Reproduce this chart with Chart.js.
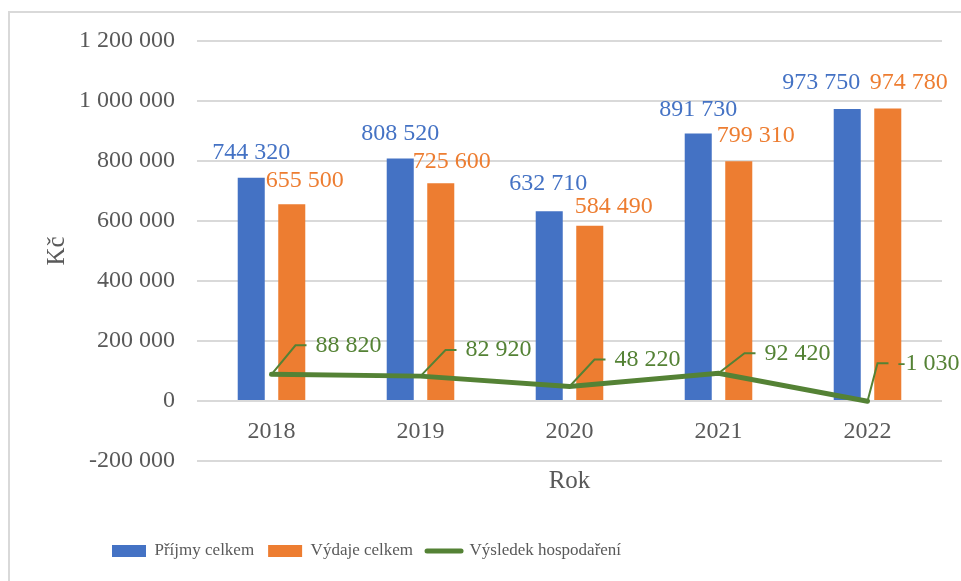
<!DOCTYPE html>
<html>
<head>
<meta charset="utf-8">
<script src="https://cdn.jsdelivr.net/npm/chart.js@4.4.1/dist/chart.umd.min.js"></script>
<style>
  body { margin: 0; background: #fff; }
  .frame { position: absolute; left: 8px; top: 11px; width: 1000px; height: 600px;
           border-left: 2px solid #d9d9d9; border-top: 2px solid #d9d9d9; }
  canvas { position: absolute; left: 0; top: 0; }
</style>
</head>
<body>
<div class="frame"></div>
<canvas id="chart" width="961" height="581"></canvas>
<script>
const years = ['2018', '2019', '2020', '2021', '2022'];
const prijmy = [744320, 808520, 632710, 891730, 973750];
const vydaje = [655500, 725600, 584490, 799310, 974780];
const vysledek = [88820, 82920, 48220, 92420, -1030];
const yMin = -200000;
const yMax = 1200000;
const yStep = 200000;

// label offsets (px) relative to the bar top / line point
const blueShift = { dx: [0, 0, -1, 0, -26], dy: [-25, -25, -27, -24, -26] };
const orangeShift = { dx: [13, 11, 24, 17, 21], dy: [-24, -22, -19, -26, -26] };
const lineShift = { dx: [24, 25, 25, 26, 10], dy: [-29, -26, -27, -20, -38] };

const serif = "'Liberation Serif', 'Times New Roman', serif";
const grey = '#595959';

const fmt = (v) => {
  const s = Math.abs(v).toString().replace(/\B(?=(\d{3})+(?!\d))/g, ' ');
  return (v < 0 ? '-' : '') + s;
};

const valueLabels = {
  id: 'valueLabels',
  afterDatasetsDraw(chart) {
    const ctx = chart.ctx;
    ctx.save();
    ctx.font = '24px ' + serif;
    ctx.textBaseline = 'middle';
    chart.data.datasets.forEach((ds, di) => {
      const meta = chart.getDatasetMeta(di);
      meta.data.forEach((el, i) => {
        const text = fmt(ds.data[i]);
        if (di < 2) {
          const sh = di === 0 ? blueShift : orangeShift;
          ctx.fillStyle = ds.backgroundColor;
          ctx.textAlign = 'center';
          ctx.fillText(text, el.x + sh.dx[i], el.y + sh.dy[i]);
        } else {
          const ex = el.x + lineShift.dx[i];
          const ey = el.y + lineShift.dy[i];
          ctx.strokeStyle = ds.borderColor;
          ctx.lineWidth = 2;
          ctx.beginPath();
          ctx.moveTo(el.x, el.y);
          ctx.lineTo(ex, ey);
          ctx.lineTo(ex + 11, ey);
          ctx.stroke();
          ctx.fillStyle = ds.borderColor;
          ctx.textAlign = 'left';
          ctx.fillText(text, ex + 20, ey);
        }
      });
    });
    ctx.restore();
  }
};

const legendPlace = {
  id: 'legendPlace',
  beforeLayout(chart) {
    const lg = chart.legend;
    if (lg && !lg._patched) {
      const fit = lg.fit;
      lg.fit = function () { fit.call(this); this.height = 80; };
      lg._patched = true;
    }
  },
  afterLayout(chart) {
    const lg = chart.legend;
    const pad = lg.options.labels.padding;
    lg.left = 112 - pad;
    lg.top = 551 - pad - 8.5;
    lg.bottom = 581;
  }
};

new Chart(document.getElementById('chart'), {
  type: 'bar',
  data: {
    labels: years,
    datasets: [
      {
        label: 'Příjmy celkem',
        data: prijmy,
        backgroundColor: '#4472C4',
        categoryPercentage: 0.544,
        barPercentage: 0.667,
        order: 1
      },
      {
        label: 'Výdaje celkem',
        data: vydaje,
        backgroundColor: '#ED7D31',
        categoryPercentage: 0.544,
        barPercentage: 0.667,
        order: 1
      },
      {
        type: 'line',
        label: 'Výsledek hospodaření',
        data: vysledek,
        borderColor: '#548235',
        backgroundColor: '#548235',
        borderWidth: 5,
        borderCapStyle: 'round',
        pointRadius: 0,
        tension: 0,
        fill: false,
        order: 0
      }
    ]
  },
  options: {
    responsive: false,
    animation: false,
    devicePixelRatio: 1,
    layout: { padding: { left: 0, top: 41, right: 19, bottom: 0 } },
    plugins: {
      tooltip: { enabled: false },
      legend: {
        position: 'bottom',
        align: 'start',
        labels: {
          usePointStyle: true,
          pointStyleWidth: 34,
          boxHeight: 12,
          padding: 14,
          color: grey,
          font: { family: serif, size: 17 },
          sort: (a, b) => a.datasetIndex - b.datasetIndex,
          generateLabels(chart) {
            const items = Chart.defaults.plugins.legend.labels.generateLabels(chart);
            items.forEach((it) => {
              if (it.datasetIndex < 2) {
                it.pointStyle = 'rect';
                it.lineWidth = 0;
              } else {
                it.pointStyle = 'line';
                it.lineWidth = 5;
                it.strokeStyle = '#548235';
                it.lineCap = 'round';
              }
            });
            return items;
          }
        }
      }
    },
    scales: {
      x: {
        position: { y: 0 },
        grid: { display: false },
        border: { display: false },
        ticks: { color: grey, font: { family: serif, size: 24 }, padding: 8 }
      },
      x2: {
        type: 'category',
        position: 'bottom',
        grid: { display: false },
        border: { display: false },
        ticks: { display: false },
        title: { display: true, text: 'Rok', color: grey, font: { family: serif, size: 25 }, padding: { top: 0, bottom: 5 } },
        afterFit(scale) { scale.height = 40; }
      },
      y: {
        min: yMin,
        max: yMax,
        grid: { color: '#d9d9d9', lineWidth: 2, drawTicks: false },
        border: { display: false },
        ticks: {
          stepSize: yStep,
          padding: 22,
          color: grey,
          font: { family: serif, size: 24 },
          callback: (v) => fmt(v)
        },
        title: { display: true, text: 'Kč', color: grey, font: { family: serif, size: 25 }, padding: { top: 42, bottom: 0 } },
        afterFit(scale) { scale.width = 197; }
      }
    }
  },
  plugins: [valueLabels, legendPlace]
});
</script>
</body>
</html>
